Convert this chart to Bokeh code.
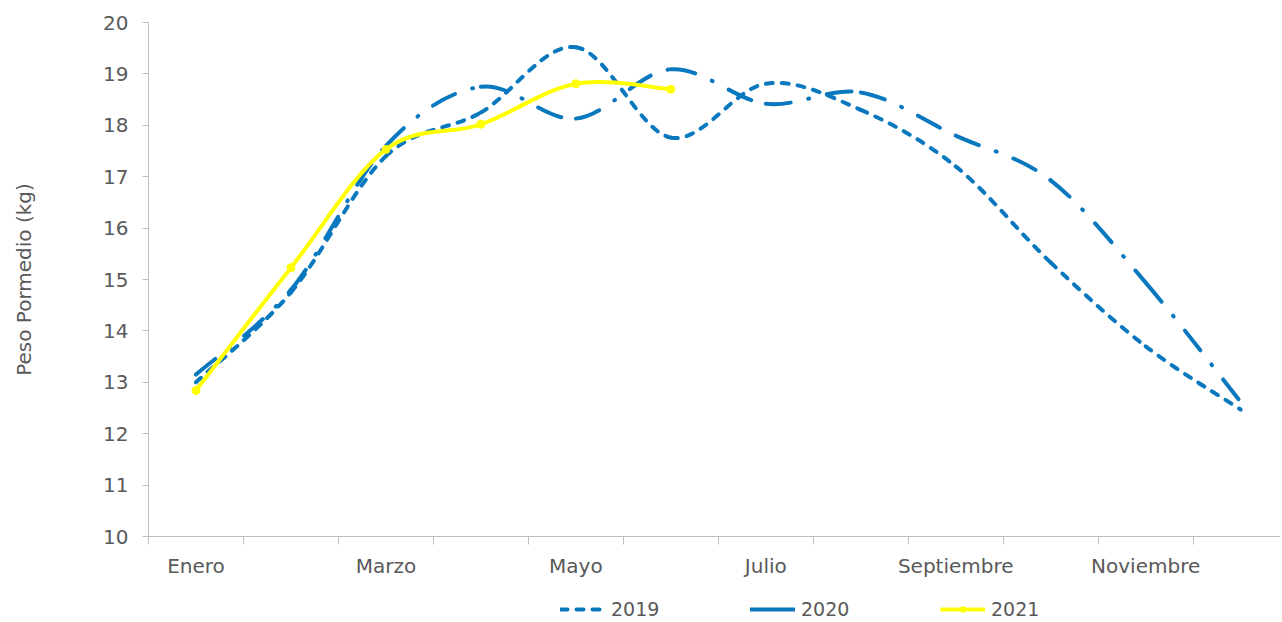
from bokeh.plotting import figure
from bokeh.layouts import column
from bokeh.models import FixedTicker, Legend, LegendItem, ColumnDataSource, Range1d
from bokeh.embed import file_html
from bokeh.resources import INLINE

# ---------------- data ----------------
months = ["Enero", "Febrero", "Marzo", "Abril", "Mayo", "Junio", "Julio",
          "Agosto", "Septiembre", "Octubre", "Noviembre", "Diciembre"]
shown_months = ["Enero", "Marzo", "Mayo", "Julio", "Septiembre", "Noviembre"]
y2019 = [13.0, 14.75, 17.4, 18.25, 19.52, 17.76, 18.81, 18.3, 17.2, 15.33, 13.7, 12.47]
y2020 = [13.15, 14.8, 17.6, 18.75, 18.13, 19.09, 18.42, 18.64, 17.8, 16.93, 14.94, 12.62]
y2021 = [12.84, 15.23, 17.53, 18.02, 18.81, 18.70]
y_ticks = list(range(10, 21))
series_names = ["2019", "2020", "2021"]

BLUE = "#0A78BE"
YELLOW = "#FFFF00"
GREY = "#595959"
AXIS = "#BFBFBF"
FONT = "DejaVu Sans"
NAN = float("nan")


def smooth_source(values):
    """Bezier segments (Excel-like smoothing) through the data points."""
    xs = [months.index(m) + 1 for m in months[:len(values)]]
    ys = list(values)
    n = len(xs)
    d = dict(x0=[], y0=[], x1=[], y1=[], cx0=[], cy0=[], cx1=[], cy1=[])
    for i in range(n - 1):
        a = max(i - 1, 0)
        b = min(i + 2, n - 1)
        d["x0"].append(xs[i]); d["y0"].append(ys[i])
        d["x1"].append(xs[i + 1]); d["y1"].append(ys[i + 1])
        d["cx0"].append(xs[i] + (xs[i + 1] - xs[a]) / 6.0)
        d["cy0"].append(ys[i] + (ys[i + 1] - ys[a]) / 6.0)
        d["cx1"].append(xs[i + 1] - (xs[b] - xs[i]) / 6.0)
        d["cy1"].append(ys[i + 1] - (ys[b] - ys[i]) / 6.0)
    return ColumnDataSource(d)


p = figure(width=1280, height=580, output_backend="svg", toolbar_location=None,
           x_range=Range1d(0.5, 12.42), y_range=Range1d(10, 20),
           min_border_left=148, min_border_right=0, min_border_top=22,
           min_border_bottom=44)
p.outline_line_color = None
p.xgrid.visible = False
p.ygrid.visible = False

# lines
common = dict(x0="x0", y0="y0", x1="x1", y1="y1", cx0="cx0", cy0="cy0",
              cx1="cx1", cy1="cy1", line_width=4, line_cap="round")
p.bezier(source=smooth_source(y2019), line_color=BLUE, line_dash="7 9", **common)
p.bezier(source=smooth_source(y2020), line_color=BLUE, line_dash="25 18 1 18", **common)
p.bezier(source=smooth_source(y2021), line_color=YELLOW, **common)
x2021 = [months.index(m) + 1 for m in months[:len(y2021)]]
p.scatter(x2021, y2021, size=8, marker="circle", fill_color=YELLOW, line_color=YELLOW)

# axes
xa = p.xaxis[0]
xa.ticker = FixedTicker(ticks=[months.index(m) + 1 for m in shown_months],
                        minor_ticks=[i + 0.5 for i in range(len(months))])
xa.major_label_overrides = {months.index(m) + 1: m for m in shown_months}
xa.major_tick_out = 0
xa.major_tick_in = 0
xa.minor_tick_out = 8
xa.minor_tick_in = 0
xa.minor_tick_line_color = AXIS
xa.axis_line_color = AXIS
xa.major_label_standoff = 9
xa.major_label_text_font = FONT
xa.major_label_text_font_size = "20px"
xa.major_label_text_color = GREY

ya = p.yaxis[0]
ya.ticker = FixedTicker(ticks=y_ticks)
ya.minor_tick_out = 0
ya.minor_tick_in = 0
ya.major_tick_out = 6
ya.major_tick_in = 0
ya.major_tick_line_color = AXIS
ya.axis_line_color = AXIS
ya.major_label_standoff = 14
ya.major_label_text_font = FONT
ya.major_label_text_font_size = "20px"
ya.major_label_text_color = GREY
ya.axis_label = "Peso Pormedio (kg)"
ya.axis_label_text_font = FONT
ya.axis_label_text_font_size = "20px"
ya.axis_label_text_font_style = "normal"
ya.axis_label_text_color = GREY
ya.axis_label_standoff = 64

# ---------------- legend strip ----------------
lg = figure(width=1280, height=40, output_backend="svg", toolbar_location=None,
            x_range=Range1d(0, 1), y_range=Range1d(0, 1),
            x_axis_type=None, y_axis_type=None, min_border=0)
lg.outline_line_color = None
lg.xgrid.visible = False
lg.ygrid.visible = False

# legend proxies (single NaN point: nothing drawn)
l19 = lg.line(x=[NAN], y=[NAN], line_color=BLUE, line_width=4, line_dash="7 9", line_cap="round")
l20 = lg.line(x=[NAN], y=[NAN], line_color=BLUE, line_width=4, line_cap="round")
l21 = lg.line(x=[NAN], y=[NAN], line_color=YELLOW, line_width=4)
m21 = lg.scatter(x=[NAN], y=[NAN], size=8, marker="circle", fill_color=YELLOW, line_color=YELLOW)

legend = Legend(items=[LegendItem(label=series_names[0], renderers=[l19]),
                       LegendItem(label=series_names[1], renderers=[l20]),
                       LegendItem(label=series_names[2], renderers=[l21, m21])],
                location=(412, 0), orientation="horizontal",
                glyph_width=45, glyph_height=14, label_height=14, label_width=50,
                label_standoff=6, spacing=89, padding=0, margin=0,
                border_line_color=None, background_fill_alpha=0,
                label_text_font=FONT, label_text_font_size="19px",
                label_text_color=GREY)
lg.add_layout(legend)

open("out.html", "w").write(file_html(column(p, lg, spacing=0), INLINE))
